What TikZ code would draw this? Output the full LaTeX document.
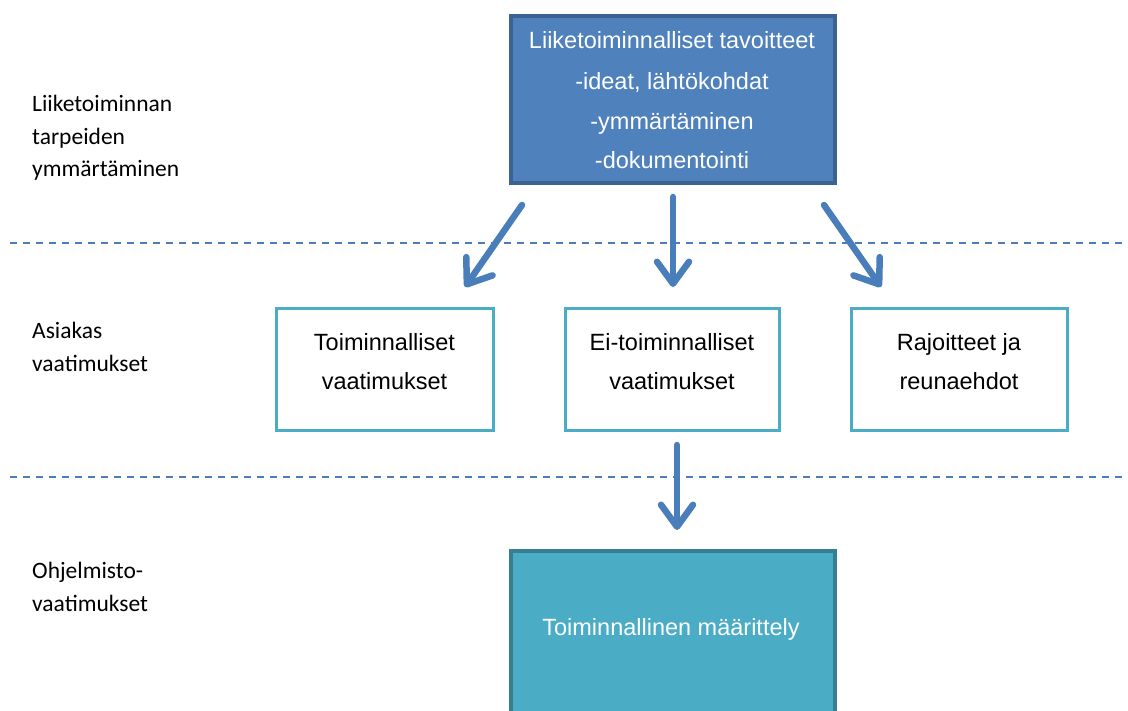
\documentclass[tikz,border=0pt]{standalone}
\usepackage{fontspec}
\setmainfont{Liberation Sans}
\newfontfamily\calfont{Carlito}
\usetikzlibrary{arrows.meta}
\definecolor{topfill}{HTML}{4F81BD}
\definecolor{topdraw}{HTML}{3B6392}
\definecolor{midline}{HTML}{4BACC6}
\definecolor{botfill}{HTML}{4BACC6}
\definecolor{botdraw}{HTML}{367E92}
\definecolor{arrowc}{HTML}{4A7EBB}
\tikzset{
  txt/.style={font=\fontsize{23.5bp}{28bp}\selectfont},
  sidetxt/.style={font=\calfont\fontsize{23.5bp}{28bp}\selectfont},
  topbox/.style={draw=topdraw, fill=topfill, line width=4bp, inner sep=0pt},
  midbox/.style={draw=midline, fill=white, line width=3bp, inner sep=0pt},
  botbox/.style={draw=botdraw, fill=botfill, line width=4bp, inner sep=0pt},
  sep/.style={draw=arrowc, line width=1.6bp, dash pattern=on 7bp off 6bp},
  bigarrow/.style={draw=arrowc, line width=6.5bp, line cap=round, -{Straight Barb[length=22bp, width=32bp, round]}},
}
\begin{document}
\begin{tikzpicture}[x=1bp,y=-1bp]
\useasboundingbox (0,0) rectangle (1128,711);
\clip (0,0) rectangle (1128,711);
% dashed separators
\coordinate (s1a) at (10,243);
\coordinate (s1b) at (1132,243);
\coordinate (s2a) at (10,477);
\coordinate (s2b) at (1132,477);
\draw[sep] (s1a) -- (s1b);
\draw[sep] (s2a) -- (s2b);
% top box
\node[topbox, minimum width=324bp, minimum height=167bp] (top) at (673,99.5) {};
\node[txt, text=white, anchor=base] (t1) at (672,49) {Liiketoiminnalliset tavoitteet};
\node[txt, text=white, anchor=base] (t2) at (672,90) {-ideat, lähtökohdat};
\node[txt, text=white, anchor=base] (t3) at (672,130) {-ymmärtäminen};
\node[txt, text=white, anchor=base] (t4) at (672,169) {-dokumentointi};
% middle boxes
\node[midbox, minimum width=217bp, minimum height=122bp] (m1) at (384.5,369) {};
\node[midbox, minimum width=214bp, minimum height=122bp] (m2) at (672,369) {};
\node[midbox, minimum width=216bp, minimum height=122bp] (m3) at (959,369) {};
\node[txt, anchor=base] (m1a) at (384.5,350) {Toiminnalliset};
\node[txt, anchor=base] (m1b) at (384.5,389) {vaatimukset};
\node[txt, anchor=base] (m2a) at (672,350) {Ei-toiminnalliset};
\node[txt, anchor=base] (m2b) at (672,389) {vaatimukset};
\node[txt, anchor=base] (m3a) at (959,350) {Rajoitteet ja};
\node[txt, anchor=base] (m3b) at (959,389) {reunaehdot};
% bottom box
\node[botbox, minimum width=324bp, minimum height=200bp] (bot) at (673,651) {};
\node[txt, text=white, anchor=base] (bt) at (671,635) {Toiminnallinen määrittely};
% side labels
\node[sidetxt, anchor=base west, inner sep=0pt] (l1) at (32,111.5) {Liiketoiminnan};
\node[sidetxt, anchor=base west, inner sep=0pt] (l2) at (32,144.5) {tarpeiden};
\node[sidetxt, anchor=base west, inner sep=0pt] (l3) at (32,177) {ymmärtäminen};
\node[sidetxt, anchor=base west, inner sep=0pt] (l4) at (32,338) {Asiakas};
\node[sidetxt, anchor=base west, inner sep=0pt] (l5) at (32,371.5) {vaatimukset};
\node[sidetxt, anchor=base west, inner sep=0pt] (l6) at (32,578) {Ohjelmisto-};
\node[sidetxt, anchor=base west, inner sep=0pt] (l7) at (32,611) {vaatimukset};
% arrows
\coordinate (a1s) at (522,205); \coordinate (a1e) at (465,287);
\coordinate (a2s) at (673,197); \coordinate (a2e) at (673,287);
\coordinate (a3s) at (824,205); \coordinate (a3e) at (881,287);
\coordinate (a4s) at (677,445); \coordinate (a4e) at (677,530);
\draw[bigarrow] (a1s) -- (a1e);
\draw[bigarrow] (a2s) -- (a2e);
\draw[bigarrow] (a3s) -- (a3e);
\draw[bigarrow] (a4s) -- (a4e);
\end{tikzpicture}
\end{document}
